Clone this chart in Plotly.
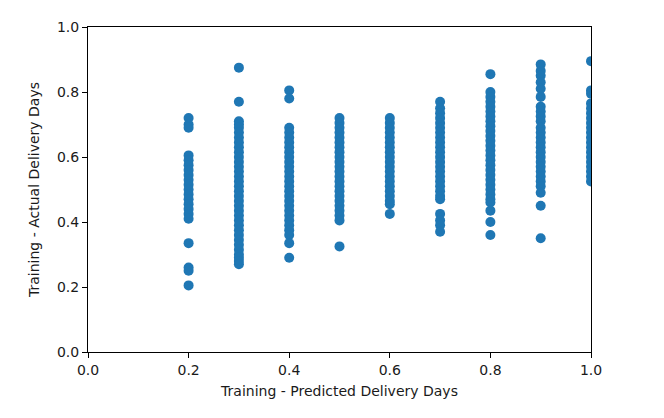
import plotly.graph_objects as go

predicted_levels = [0.2, 0.3, 0.4, 0.5, 0.6, 0.7, 0.8, 0.9, 1.0]

actual_02 = [0.72, 0.70, 0.69, 0.605, 0.59, 0.575, 0.56, 0.545, 0.53, 0.515, 0.50,
             0.485, 0.47, 0.455, 0.44, 0.425, 0.41, 0.335, 0.26, 0.25, 0.205]
actual_03 = [0.875, 0.77, 0.71, 0.70, 0.69, 0.675, 0.66, 0.645, 0.63, 0.615, 0.60,
             0.585, 0.57, 0.555, 0.54, 0.525, 0.51, 0.495, 0.48, 0.465, 0.45, 0.435,
             0.42, 0.405, 0.39, 0.375, 0.36, 0.345, 0.33, 0.315, 0.30, 0.29, 0.28, 0.27]
actual_04 = [0.805, 0.78, 0.69, 0.675, 0.66, 0.645, 0.63, 0.615, 0.60, 0.585, 0.57,
             0.555, 0.54, 0.525, 0.51, 0.495, 0.48, 0.465, 0.45, 0.435, 0.42, 0.405,
             0.39, 0.375, 0.36, 0.335, 0.29]
actual_05 = [0.72, 0.705, 0.69, 0.675, 0.66, 0.645, 0.63, 0.615, 0.60, 0.585, 0.57,
             0.555, 0.54, 0.525, 0.51, 0.495, 0.48, 0.465, 0.45, 0.435, 0.42, 0.405, 0.325]
actual_06 = [0.72, 0.705, 0.69, 0.675, 0.66, 0.645, 0.63, 0.615, 0.60, 0.585, 0.57,
             0.555, 0.54, 0.525, 0.51, 0.495, 0.48, 0.465, 0.455, 0.425]
actual_07 = [0.77, 0.75, 0.735, 0.72, 0.705, 0.69, 0.675, 0.66, 0.645, 0.63, 0.615,
             0.60, 0.585, 0.57, 0.555, 0.54, 0.525, 0.51, 0.495, 0.48, 0.47, 0.425,
             0.405, 0.39, 0.37]
actual_08 = [0.855, 0.80, 0.785, 0.77, 0.755, 0.74, 0.725, 0.71, 0.695, 0.68, 0.665,
             0.65, 0.635, 0.62, 0.605, 0.59, 0.575, 0.56, 0.545, 0.53, 0.515, 0.50,
             0.485, 0.47, 0.46, 0.435, 0.40, 0.36]
actual_09 = [0.885, 0.865, 0.85, 0.83, 0.81, 0.785, 0.755, 0.74, 0.725, 0.71, 0.69,
             0.675, 0.66, 0.645, 0.63, 0.615, 0.60, 0.585, 0.57, 0.555, 0.54, 0.525,
             0.51, 0.49, 0.45, 0.35]
actual_10 = [0.895, 0.805, 0.795, 0.765, 0.75, 0.735, 0.72, 0.705, 0.69, 0.675, 0.66,
             0.645, 0.63, 0.615, 0.60, 0.585, 0.57, 0.555, 0.54, 0.525]

actual_by_level = [actual_02, actual_03, actual_04, actual_05, actual_06,
                   actual_07, actual_08, actual_09, actual_10]

tick_vals = [0.0, 0.2, 0.4, 0.6, 0.8, 1.0]
tick_text = ["0.0", "0.2", "0.4", "0.6", "0.8", "1.0"]

xs, ys = [], []
for lvl, vals in zip(predicted_levels, actual_by_level):
    xs.extend([lvl] * len(vals))
    ys.extend(vals)

fig = go.Figure(go.Scatter(
    x=xs, y=ys, mode="markers",
    marker=dict(color="#1f77b4", size=10, line=dict(width=0)),
    cliponaxis=True, showlegend=False,
))

axis_common = dict(
    range=[0, 1], tickvals=tick_vals, ticktext=tick_text,
    showgrid=False, zeroline=False, showline=True, mirror=True,
    linecolor="black", linewidth=1, ticks="outside", ticklen=5,
    tickcolor="black", tickwidth=1, automargin=False,
    tickfont=dict(family="DejaVu Sans", size=14, color="#1a1a1a"),
)

fig.update_layout(
    width=648, height=402,
    margin=dict(l=80, r=65, t=19, b=58),
    paper_bgcolor="white", plot_bgcolor="white",
    font=dict(family="DejaVu Sans", size=14, color="#1a1a1a"),
    xaxis=dict(**axis_common,
               title=dict(text="Training - Predicted Delivery Days",
                          font=dict(size=14), standoff=9)),
    yaxis=dict(**axis_common,
               title=dict(text="Training - Actual Delivery Days",
                          font=dict(size=14), standoff=14)),
)

fig.write_html("out.html")
